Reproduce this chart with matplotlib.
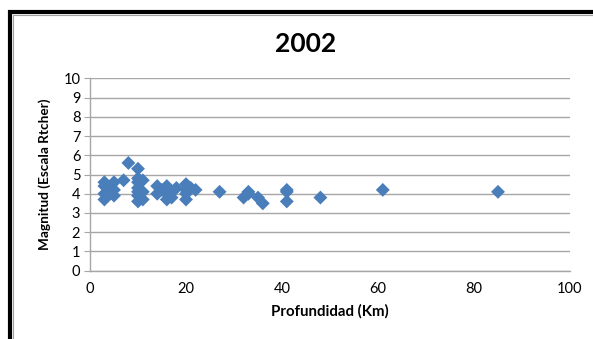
import matplotlib
matplotlib.use("Agg")
import matplotlib.pyplot as plt
from matplotlib.patches import Rectangle

depth_km = [3, 3, 3, 3, 4, 4, 5, 5, 5, 7, 8,
            10, 10, 10, 10, 10, 10, 10, 11, 11, 11,
            14, 14, 15, 16, 16, 16, 17, 17, 18,
            20, 20, 20, 20, 21, 22, 27, 32, 33, 33,
            35, 36, 41, 41, 41, 48, 61, 85]
magnitude = [4.6, 4.4, 4.0, 3.7, 4.3, 4.0, 4.6, 4.2, 3.9, 4.7, 5.6,
             5.3, 4.8, 4.6, 4.3, 4.1, 3.9, 3.6, 4.7, 4.1, 3.7,
             4.4, 4.0, 4.2, 4.4, 4.0, 3.7, 4.1, 3.8, 4.3,
             4.5, 4.2, 4.0, 3.7, 4.3, 4.2, 4.1, 3.8, 4.1, 4.0,
             3.8, 3.5, 4.2, 4.1, 3.6, 3.8, 4.2, 4.1]

title = "2002"
xlabel = "Profundidad (Km)"
ylabel = "Magnitud (Escala Rtcher)"
xticks = [0, 20, 40, 60, 80, 100]
yticks = list(range(0, 11))

plt.rcParams['font.family'] = ['Lato', 'DejaVu Sans']

W, H = 593, 339
fig = plt.figure(figsize=(W / 100, H / 100), dpi=100)
fig.patch.set_facecolor('white')

# outer chart border (black, only top-left visible)
fig.add_artist(Rectangle((10 / W, -0.5), 1.5, 1 - 12 / H + 0.5,
                         transform=fig.transFigure, fill=False,
                         edgecolor='black', linewidth=3.0))
fig.add_artist(Rectangle((12.5 / W, -0.5), 1.5, 1 - 14.5 / H + 0.5,
                         transform=fig.transFigure, fill=False,
                         edgecolor='#a0a0a0', linewidth=0.8))

ax = fig.add_axes([90 / W, 1 - 270.7 / H, 480 / W, (270.7 - 78.3) / H])
ax.set_xlim(0, 100)
ax.set_ylim(0, 10)
ax.set_xticks(xticks)
ax.set_yticks(yticks)
ax.grid(axis='y', color='#a6a6a6', linewidth=1.0)
ax.set_axisbelow(True)
for s in ['top', 'right']:
    ax.spines[s].set_visible(False)
for s in ['left', 'bottom']:
    ax.spines[s].set_color('#a6a6a6')
    ax.spines[s].set_linewidth(1.0)
ax.tick_params(axis='y', length=4, color='#a6a6a6', labelsize=10.5, pad=3)
ax.tick_params(axis='x', length=0, labelsize=10.5, pad=8)

ax.scatter(depth_km, magnitude, marker='D', s=50, color='#4a7ebb',
           edgecolors='none', zorder=3, clip_on=False)

ax.set_xlabel(xlabel, fontsize=10.8, fontweight='bold', labelpad=6)
ax.set_ylabel(ylabel, fontsize=9.8, fontweight='bold', labelpad=9)
fig.text(306 / W, 1 - 44 / H, title, fontsize=19, fontweight='bold',
         ha='center', va='center')

fig.savefig('out.png', dpi=100)
